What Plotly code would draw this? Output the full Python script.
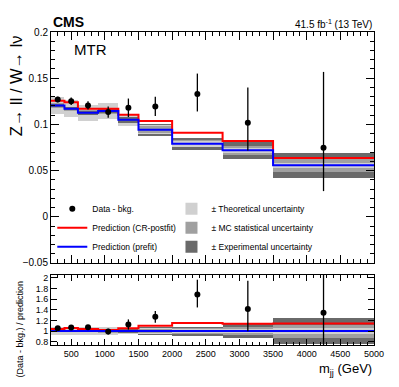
import plotly.graph_objects as go
from plotly.subplots import make_subplots

# m_jj binning (GeV)
edges = [200, 400, 600, 900, 1200, 1500, 2000, 2750, 3500, 5000]

# Z->ll / W->lnu ratio, data - bkg.
data = [0.127, 0.125, 0.1205, 0.1133, 0.118, 0.1195, 0.133, 0.1018, 0.0748]
err_up = [0.003, 0.004, 0.0045, 0.006, 0.010, 0.0105, 0.022, 0.038, 0.082]
err_dn = [0.003, 0.004, 0.0045, 0.006, 0.010, 0.0105, 0.019, 0.030, 0.047]

# predictions
postfit = [0.1255, 0.124, 0.117, 0.117, 0.1105, 0.1036, 0.091, 0.082, 0.0636]
prefit = [0.1205, 0.117, 0.1126, 0.1144, 0.105, 0.0943, 0.079, 0.072, 0.0557]

# relative uncertainties on the prefit prediction
theo_unc = [0.08, 0.08, 0.075, 0.075, 0.06, 0.05, 0.04, 0.04, 0.05]
mc_unc = [0.02, 0.02, 0.025, 0.03, 0.03, 0.04, 0.05, 0.07, 0.12]
exp_unc = [0.015, 0.015, 0.02, 0.02, 0.03, 0.07, 0.085, 0.13, 0.24]

centers = [(a + b) / 2 for a, b in zip(edges[:-1], edges[1:])]
widths = [b - a for a, b in zip(edges[:-1], edges[1:])]
nbins = len(centers)

FONT = "Liberation Sans, Arial, sans-serif"

fig = make_subplots(rows=2, cols=1, shared_xaxes=True)

# uncertainty bands, largest drawn first in each bin
unc = {"theo": theo_unc, "mc": mc_unc, "exp": exp_unc}
band_col = {"theo": "#d0d0d0", "mc": "#a0a0a0", "exp": "#6a6a6a"}
order = [sorted(unc, key=lambda k: -unc[k][i]) for i in range(nbins)]
for rank in range(3):
    kinds = [order[i][rank] for i in range(nbins)]
    frac = [unc[k][i] for i, k in enumerate(kinds)]
    cols = [band_col[k] for k in kinds]
    fig.add_trace(go.Bar(x=centers, width=widths,
                         base=[p * (1 - f) for p, f in zip(prefit, frac)],
                         y=[2 * p * f for p, f in zip(prefit, frac)],
                         marker=dict(color=cols, line=dict(width=0)),
                         showlegend=False, hoverinfo="skip"), row=1, col=1)
    fig.add_trace(go.Bar(x=centers, width=widths,
                         base=[1 - f for f in frac],
                         y=[2 * f for f in frac],
                         marker=dict(color=cols, line=dict(width=0)),
                         showlegend=False, hoverinfo="skip"), row=2, col=1)

# legend entries for the bands
for name, k in [("± Theoretical uncertainty", "theo"),
                ("± MC statistical uncertainty", "mc"),
                ("± Experimental uncertainty", "exp")]:
    fig.add_trace(go.Bar(x=[None], y=[None], name=name,
                         marker=dict(color=band_col[k], line=dict(width=0)),
                         legend="legend2"), row=1, col=1)

# prediction step lines
ratio_post = [a / b for a, b in zip(postfit, prefit)]
ones = [1.0] * nbins
for row, red, blue in ((1, postfit, prefit), (2, ratio_post, ones)):
    fig.add_trace(go.Scatter(x=edges, y=red + [red[-1]], mode="lines",
                             line=dict(color="#ff0000", width=2, shape="hv"),
                             name="Prediction (CR-postfit)", legendrank=2,
                             showlegend=(row == 1)), row=row, col=1)
    fig.add_trace(go.Scatter(x=edges, y=blue + [blue[-1]], mode="lines",
                             line=dict(color="#0000ff", width=2, shape="hv"),
                             name="Prediction (prefit)", legendrank=3,
                             showlegend=(row == 1)), row=row, col=1)

# data points
fig.add_trace(go.Scatter(x=centers, y=data, mode="markers",
                         marker=dict(color="black", size=6),
                         error_y=dict(type="data", symmetric=False, array=err_up,
                                      arrayminus=err_dn, color="black",
                                      thickness=1.3, width=0),
                         name="Data - bkg.", legendrank=1), row=1, col=1)
fig.add_trace(go.Scatter(x=centers, y=[d / p for d, p in zip(data, prefit)],
                         mode="markers", marker=dict(color="black", size=6),
                         error_y=dict(type="data", symmetric=False,
                                      array=[e / p for e, p in zip(err_up, prefit)],
                                      arrayminus=[e / p for e, p in zip(err_dn, prefit)],
                                      color="black", thickness=1.3, width=0),
                         showlegend=False), row=2, col=1)

axis_common = dict(showline=True, linecolor="black", linewidth=1, mirror="ticks",
                   ticks="inside", tickcolor="black", showgrid=False, zeroline=False,
                   tickfont=dict(family=FONT, size=10, color="black"))

fig.update_xaxes(range=[200, 5000], tick0=0, dtick=500, ticklen=8,
                 minor=dict(dtick=100, ticklen=4, ticks="inside", tickcolor="black"),
                 **axis_common)
fig.update_xaxes(showticklabels=False, row=1, col=1)
fig.update_xaxes(tickfont=dict(family=FONT, size=9, color="black"), ticklen=6,
                 minor=dict(dtick=100, ticklen=3), row=2, col=1)
fig.update_yaxes(**axis_common)
fig.update_yaxes(range=[-0.05, 0.2], tick0=0, dtick=0.05, ticklen=8,
                 minor=dict(dtick=0.01, ticklen=4, ticks="inside", tickcolor="black"),
                 domain=[0.262, 1.0], row=1, col=1)
fig.update_yaxes(range=[0.74, 2.05], tick0=0, dtick=0.2, ticklen=6,
                 tickfont=dict(family=FONT, size=9, color="black"),
                 domain=[0.0, 0.2236], row=2, col=1)

# the page body adds an 8 px offset, so the figure is sized to fit what is left
fig.update_layout(
    width=391, height=379,
    margin=dict(l=43, r=25, t=24, b=42),
    paper_bgcolor="white", plot_bgcolor="white",
    barmode="overlay", bargap=0,
    font=dict(family=FONT, color="black"),
    legend=dict(x=0.004, y=0.482, xanchor="left", yanchor="top",
                bgcolor="rgba(0,0,0,0)", itemwidth=30,
                font=dict(family=FONT, size=8.5, color="black")),
    legend2=dict(x=0.373, y=0.482, xanchor="left", yanchor="top",
                 bgcolor="rgba(0,0,0,0)", itemwidth=30,
                 font=dict(family=FONT, size=8.5, color="black")),
    annotations=[
        dict(text="<b>CMS</b>", x=0, y=1, xref="paper", yref="paper",
             xanchor="left", yanchor="bottom", showarrow=False,
             font=dict(family=FONT, size=14)),
        dict(text="41.5 fb<sup>-1</sup> (13 TeV)", x=1, y=1, xref="paper",
             yref="paper", xanchor="right", yanchor="bottom", showarrow=False,
             font=dict(family=FONT, size=10)),
        dict(text="MTR", x=0.065, y=0.943, xref="paper", yref="paper",
             xanchor="left", yanchor="middle", showarrow=False,
             font=dict(family=FONT, size=15)),
        dict(text="Z→ ll / W→ lν", x=-0.106, y=0.997, xref="paper",
             yref="paper", xanchor="center", yanchor="top", textangle=-90,
             showarrow=False, font=dict(family=FONT, size=16.5)),
        dict(text="(Data - bkg.) / prediction", x=-0.096, y=0.214,
             xref="paper", yref="paper", xanchor="center", yanchor="top",
             textangle=-90, showarrow=False, font=dict(family=FONT, size=9)),
        dict(text="m<sub>jj</sub> (GeV)", x=1, y=0, xref="paper", yref="paper",
             xanchor="right", yanchor="top", yshift=-14, showarrow=False,
             font=dict(family=FONT, size=13)),
    ],
)

fig.write_html("out.html")
